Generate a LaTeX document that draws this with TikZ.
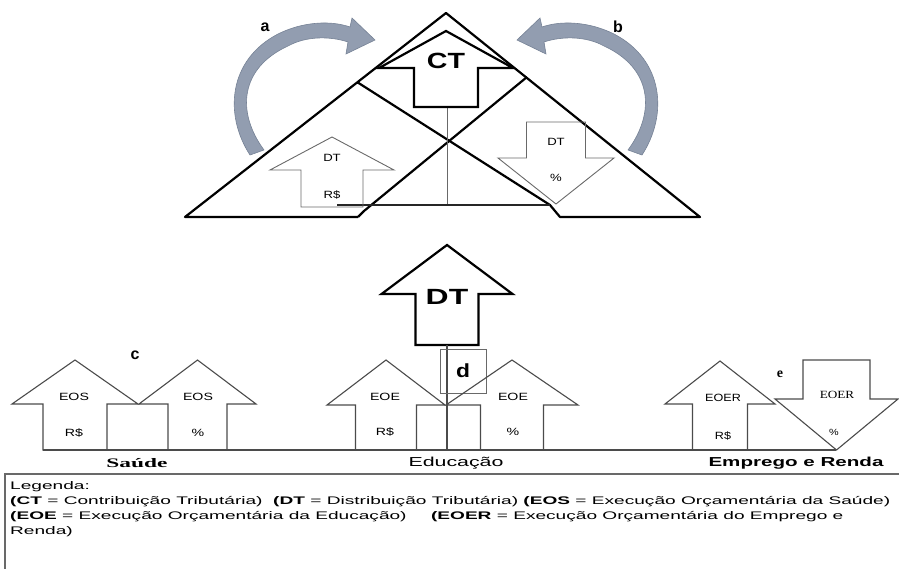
\documentclass[tikz,border=0pt]{standalone}
\usepackage{fontspec}
\setmainfont{Liberation Sans}
\newfontfamily\serifft{Liberation Serif}
\usepackage{graphicx}
\newcommand\sxt[2]{\scalebox{#1}[1]{#2}}
% style, cx, apex y, wing y, wing half, body half, end y
\newcommand\blockarrow[7]{\draw[#1] (#2,#3) -- ({#2+#5},#4) -- ({#2+#6},#4) -- ({#2+#6},#7) -- ({#2-#6},#7) -- ({#2-#6},#4) -- ({#2-#5},#4) -- cycle;}
\newsavebox\legbox
\definecolor{curvefill}{RGB}{146,157,176}
\definecolor{curveedge}{RGB}{118,130,150}
\definecolor{thingray}{RGB}{105,105,105}
\definecolor{botgray}{RGB}{75,75,75}
\begin{document}
\sbox\legbox{\fontsize{11}{13}\selectfont\textbf{(CT} = Contribuição Tributária)\ \ \textbf{(DT} = Distribuição Tributária) \textbf{(EOS} = Execução Orçamentária da Saúde)}%
\pgfmathsetmacro\legsx{880/\the\wd\legbox}%
\begin{tikzpicture}[x=1pt,y=-1pt,
  heavy/.style={draw=black,line width=2.2pt,line join=miter},
  thinarrow/.style={draw=thingray,line width=0.9pt},
  botarrow/.style={draw=botgray,line width=1.1pt},
  small/.style={font=\fontsize{10.5}{10.5}\selectfont},
  lettr/.style={font=\bfseries\fontsize{16}{16}\selectfont},
  catlab/.style={font=\fontsize{13}{13}\selectfont,inner sep=0pt}]
\useasboundingbox (0,0) rectangle (899,569);

% ---------- curved arrows a and b ----------
\newcommand\curvedarrow{%
\filldraw[fill=curvefill,draw=curveedge,line width=0.6pt]
 (250,155) .. controls (224,115) and (228,60) .. (278,34)
 .. controls (302,22) and (330,20) .. (350,27)
 -- (352,18) -- (375,40) -- (346,54) -- (348,42)
 .. controls (330,36) and (306,36) .. (288,46)
 .. controls (240,68) and (236,112) .. (264,150) -- cycle;}
\curvedarrow
\begin{scope}[shift={(892,0)},xscale=-1]
\curvedarrow
\end{scope}
\node[lettr] (la) at (265,27) {a};
\node[lettr] (lb) at (618,27) {b};

% ---------- top triangle ----------
\draw[heavy,line join=round] (358,217) -- (185,217) -- (446,13) -- (700,217) -- (560,217) -- (550,205) -- (357,82);
\draw[heavy,line join=round] (527,77) -- (364,211) -- (358,217);
\draw[thingray,line width=1pt] (447,107) -- (447,205);
\draw[black!85,line width=1.5pt] (337,205) -- (550,205);

% CT arrow
\blockarrow{heavy}{446}{31}{68}{67}{32}{107}
\node[font=\bfseries\fontsize{22}{22}\selectfont] (ct) at (446,61) {\sxt{1.3}{CT}};

% DT R$ (up) and DT % (down)
\blockarrow{thinarrow}{332}{137}{170}{62}{31}{207}
\node[small] (dt1) at (332,158) {\sxt{1.25}{DT}};
\node[small] (rs1) at (332,195) {\sxt{1.25}{R\$}};
\blockarrow{thinarrow}{556}{204}{158}{58}{29.5}{122}
\node[small] (dt2) at (556,142) {\sxt{1.25}{DT}};
\node[small] (pc2) at (556,178) {\sxt{1.25}{\%}};

% ---------- central DT arrow ----------
\blockarrow{heavy}{447}{245}{294}{65.5}{31.5}{345}
\node[font=\bfseries\fontsize{22}{22}\selectfont] (dt) at (447,297) {\sxt{1.45}{DT}};
\draw[botgray,line width=1.2pt] (447,345) -- (447,450);
\draw[thingray,line width=1pt] (440,349) rectangle (486,393);
\node[font=\bfseries\fontsize{19}{19}\selectfont] (ld) at (463,371) {\sxt{1.2}{d}};

% ---------- baseline ----------
\draw[botgray,line width=1.8pt] (43,450) -- (836,450);

% Saude
\blockarrow{botarrow}{75}{360}{404}{63}{32}{450}
\blockarrow{botarrow}{197.5}{360}{404}{58.5}{29.5}{450}
\node[small] (eos1) at (74,397) {\sxt{1.35}{EOS}};
\node[small] (rs2) at (74,433) {\sxt{1.35}{R\$}};
\node[small] (eos2) at (198,397) {\sxt{1.35}{EOS}};
\node[small] (pc3) at (198,433) {\sxt{1.35}{\%}};
\node[lettr] (lc) at (135,355) {c};

% Educacao
\blockarrow{botarrow}{386}{360}{405}{59}{30.5}{450}
\blockarrow{botarrow}{512}{360}{405}{66}{31.5}{450}
\node[small] (eoe1) at (385,397) {\sxt{1.35}{EOE}};
\node[small] (rs3) at (385,432) {\sxt{1.35}{R\$}};
\node[small] (eoe2) at (513,397) {\sxt{1.35}{EOE}};
\node[small] (pc4) at (513,432) {\sxt{1.35}{\%}};

% Emprego e Renda
\blockarrow{botarrow}{720}{361}{404}{55}{27.5}{450}
\blockarrow{botarrow}{836.5}{450}{399}{61.5}{33.5}{360}
\node[small] (eoer1) at (723,398) {\sxt{1.2}{EOER}};
\node[small] (rs4) at (723,436) {\sxt{1.2}{R\$}};
\node[font=\serifft\fontsize{11}{11}\selectfont] (eoer2) at (837,395) {\sxt{1.2}{EOER}};
\node[font=\fontsize{9}{9}\selectfont] (pc5) at (834,432) {\sxt{1.2}{\%}};
\node[font=\serifft\bfseries\fontsize{14}{14}\selectfont] (le) at (780,374) {e};

% category labels
\node[catlab,font=\serifft\bfseries\fontsize{13}{13}\selectfont] (sau) at (137,463) {\resizebox{61pt}{\height}{Saúde}};
\node[catlab] (edu) at (456,463) {\resizebox{95pt}{\height}{Educação}};
\node[catlab,font=\bfseries\fontsize{13}{13}\selectfont] (emp) at (796,463) {\resizebox{175pt}{\height}{Emprego e Renda}};

% ---------- legend ----------
\draw[thingray,line width=1.4pt] (905,474) -- (5,474) -- (5,575);
\node[anchor=west,inner sep=0pt,font=\fontsize{11}{13}\selectfont] (leg1) at (10,487) {\scalebox{\legsx}[1]{Legenda:}};
\node[anchor=west,inner sep=0pt] (leg2) at (10,502) {\scalebox{\legsx}[1]{\usebox\legbox}};
\node[anchor=west,inner sep=0pt,font=\fontsize{11}{13}\selectfont] (leg3) at (10,517) {\scalebox{\legsx}[1]{\textbf{(EOE} = Execução Orçamentária da Educação)\quad\ \textbf{(EOER} = Execução Orçamentária do Emprego e}};
\node[anchor=west,inner sep=0pt,font=\fontsize{11}{13}\selectfont] (leg4) at (10,532) {\scalebox{\legsx}[1]{Renda)}};
\end{tikzpicture}
\end{document}
